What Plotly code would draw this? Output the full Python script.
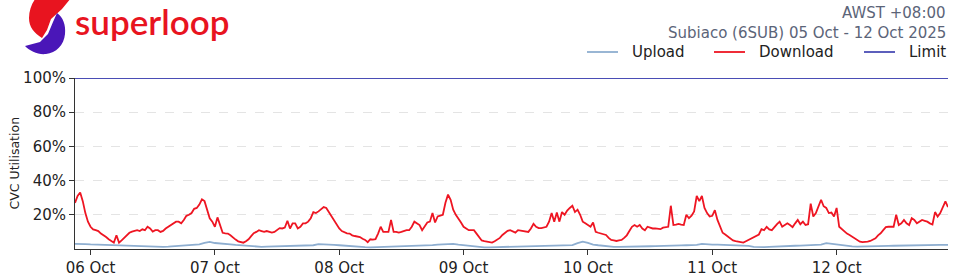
import pandas as pd
import plotly.graph_objects as go

# ---------------- data ----------------
start_time = "2025-10-05 21:00"
range_end = "2025-10-12 21:30"

download_pct = [
    27, 31, 33, 28, 21, 16, 13, 11.5, 11, 10.5, 9, 8.2, 7, 5.7, 4.5, 3.7, 8, 3.7, 5, 6.5,
    8.2, 9.5, 10.2, 10.5, 11, 10.5, 11.5, 11, 13, 12, 10.2, 11, 11, 10, 10.6, 12, 13, 14, 15, 16,
    16, 15, 17, 19.4, 20, 21, 23.5, 24, 26, 29, 28, 23, 18, 16, 13, 18.5, 14,
    9.5, 9.2, 9, 8, 6.5, 5.5, 4.5, 4, 3.7, 4.5, 5.7, 7.5, 9.2, 10, 11, 10.5, 10, 10.5, 10, 9.6,
    10, 11, 12.2, 12, 12.5, 16.5, 12, 15, 15, 12, 13, 15, 15, 16, 18, 21.6, 21, 22, 23.5, 24.5,
    24, 21.6, 19.5, 17, 14, 12, 10.5, 9.6, 9.2, 9, 8, 7.6, 7.3, 7, 6, 5.3,
    4, 5.7, 5.5, 5.7, 9, 13, 10, 10.2, 10, 17, 10, 10, 9.6, 10, 10.6, 11, 11, 13, 16, 15,
    14, 11, 13, 15.5, 16, 21, 15.5, 19, 19.5, 20, 27, 31.8, 28.8, 23, 20, 18, 15.5, 13, 12, 11,
    11, 11, 9, 7, 5, 4.6, 4.3, 4, 3.7, 4.5, 5.3, 6.5, 8.2, 9.5, 10.6, 11,
    10.5, 9.6, 11, 10.8, 10.6, 10.2, 10, 12, 14.7, 13, 12.2, 12.2, 12.5, 13, 16, 21, 16, 21.3, 16, 21.6,
    20, 22.5, 24, 25.3, 21.6, 23, 20, 16, 15, 14, 13, 15.5, 10, 9.5, 9, 8.6, 8.2, 6.5, 5.3, 5,
    4.7, 5, 5.3, 6.5, 8, 10.5, 13, 14, 13, 14, 12, 11, 13, 12.5, 12, 12,
    12, 11.6, 12.5, 12.8, 13, 25.3, 14, 14.2, 14.7, 14.3, 14, 20, 18, 19.5, 22, 31, 28, 31, 24, 21,
    19, 19.4, 22.7, 17, 13, 9.5, 8.5, 7.3, 6, 5, 4.6, 4.3, 4, 3.7, 4.5, 5.3, 6.3, 7.3, 8, 8.5,
    11.6, 11, 13, 11.5, 11, 13, 14.5, 16, 13, 14, 15, 14, 12.8, 15, 17, 14.5,
    16, 14, 14.5, 26.5, 19, 21, 25, 28.8, 25, 24, 21, 21.3, 19, 24, 13, 11.5, 10, 9, 8.2, 7.2,
    6.3, 5.3, 4.3, 4, 4, 4.3, 4.7, 5.5, 6.3, 8, 9.2, 11, 12.8, 13, 13, 13, 20, 14, 15, 17,
    15, 14, 18, 17, 15, 16, 17, 16.5, 16, 15, 14.3, 21.6, 19, 21, 24, 27.8, 24.5,
]

upload_pct = [
    3.0, 3.1, 2.9, 2.7, 2.6, 2.4, 2.2, 2.1, 1.9, 1.7, 1.6,
    1.5, 1.4, 1.3, 1.2, 1.1, 1.2, 1.3, 1.4, 1.6, 1.7,
    1.8, 2.0, 2.3, 2.7, 3.6, 4.2, 3.5, 3.1, 3.0, 2.7,
    2.4, 2.2, 1.9, 1.5, 1.4, 1.3, 1.4, 1.5, 1.5, 1.6,
    1.6, 1.7, 1.8, 1.9, 2.0, 2.2, 2.8, 2.8, 2.6, 2.4,
    2.2, 1.9, 1.6, 1.4, 1.2, 1.1, 1.0, 1.1, 1.2, 1.2,
    1.3, 1.3, 1.4, 1.5, 1.5, 1.6, 1.8, 2.0, 2.3, 2.6,
    2.7, 2.8, 3.0, 2.6, 2.2, 1.9, 1.6, 1.3, 1.0, 1.0,
    1.1, 1.1, 1.2, 1.3, 1.4, 1.5, 1.5, 1.6, 1.6, 1.7,
    1.8, 1.9, 2.0, 2.1, 2.2, 2.3, 3.4, 4.3, 3.6, 2.6,
    2.2, 1.8, 1.4, 1.3, 1.2, 1.2, 1.3, 1.4, 1.5, 1.5,
    1.6, 1.7, 1.7, 1.8, 1.9, 2.0, 2.1, 2.2, 2.3, 2.4,
    3.0, 2.7, 2.6, 2.6, 2.5, 2.4, 2.5, 2.4, 2.3, 1.8,
    1.3, 1.0, 1.1, 1.3, 1.5, 1.6, 1.7, 1.8, 1.9, 2.0,
    2.1, 2.2, 2.4, 2.6, 3.4, 3.0, 2.4, 2.0, 1.7, 1.5,
    1.4, 1.4, 1.5, 1.6, 1.7, 1.8, 1.8, 1.9, 2.0, 2.1,
    2.2, 2.3, 2.2, 2.3, 2.4, 2.3, 2.4, 2.4, 2.4,
]

limit_pct = [100, 100]
y_ticks = [20, 40, 60, 80, 100]
y_tick_labels = ["20%", "40%", "60%", "80%", "100%"]
series_names = ["Upload", "Download", "Limit"]
series_colors = ["#8eaed0", "#ee1522", "#4a4db5"]
title_line1 = "AWST +08:00"
title_line2 = "Subiaco (6SUB) 05 Oct - 12 Oct 2025"
y_title = "CVC Utilisation"
brand = "superloop"

# ---------------- build ----------------
t_dl = pd.date_range(start_time, periods=len(download_pct), freq="30min")
t_ul = pd.date_range(start_time, periods=len(upload_pct), freq="1h")
t_lim = [pd.Timestamp(start_time), pd.Timestamp(range_end)]

W, H = 960, 280
ML, MR, MT, MB = 75, 12, 78, 31
PW, PH = W - ML - MR, H - MT - MB


def px(x):
    return (x - ML) / PW


def py(y):
    return (H - MB - y) / PH


def path(pts):
    s = ""
    for p in pts:
        if isinstance(p, str):
            s += p + " "
        else:
            s += f"{px(p[0]):.5f},{py(p[1]):.5f} "
    return s.strip()


FONT = "DejaVu Sans"
LW = 1.8
fig = go.Figure()
fig.add_trace(go.Scatter(x=t_ul, y=upload_pct, name=series_names[0], mode="lines",
                         line=dict(color=series_colors[0], width=LW)))
fig.add_trace(go.Scatter(x=t_dl, y=download_pct, name=series_names[1], mode="lines",
                         line=dict(color=series_colors[1], width=LW)))
fig.add_trace(go.Scatter(x=t_lim, y=limit_pct, name=series_names[2], mode="lines",
                         line=dict(color=series_colors[2], width=LW)))

red_logo = path(["M", (36, -2), "L", (71, -2), "L", (62, 9), "L", (51, 19), "L", (47, 30),
                 "L", (42, 38), "C", (34, 33), (29, 27), (29, 18),
                 "C", (29, 10), (32, 3), (36, -2), "Z"])
purple_logo = path(["M", (57, 13), "C", (63, 17), (66, 25), (65, 34),
                    "C", (64, 45), (56, 53), (46, 54), "C", (38, 55), (30, 51), (25, 46),
                    "L", (40, 42), "L", (48, 34), "L", (53, 22), "Z"])

shapes = [
    dict(type="path", xref="paper", yref="paper", path=red_logo,
         fillcolor="#e8141f", line=dict(width=0), layer="above"),
    dict(type="path", xref="paper", yref="paper", path=purple_logo,
         fillcolor="#4a16b8", line=dict(width=0), layer="above"),
]

annotations = [
    dict(text=brand, xref="paper", yref="paper", x=px(73), y=py(21),
         xanchor="left", yanchor="middle", showarrow=False,
         font=dict(family="Lato", size=35, weight=600, color="#e8141f")),
    dict(text=title_line1, xref="paper", yref="paper", x=1.0, y=py(13),
         xanchor="right", yanchor="middle", showarrow=False,
         font=dict(family=FONT, size=15, color="#5b6478")),
    dict(text=title_line2, xref="paper", yref="paper", x=1.0, y=py(33),
         xanchor="right", yanchor="middle", showarrow=False,
         font=dict(family=FONT, size=15, color="#5b6478")),
    dict(text=y_title, xref="paper", yref="paper", x=px(14), y=0.5,
         xanchor="center", yanchor="middle", textangle=-90, showarrow=False,
         font=dict(family=FONT, size=12.5, color="#222222")),
]

# manual legend (line sample + label) placed like the reference
legend_line_x = [(587, 618), (714, 745), (864, 895)]
legend_y = 52
for (x0, x1), name, col in zip(legend_line_x, series_names, series_colors):
    shapes.append(dict(type="line", xref="paper", yref="paper",
                       x0=px(x0), x1=px(x1), y0=py(legend_y), y1=py(legend_y),
                       line=dict(color=col, width=LW)))
    annotations.append(dict(text=name, xref="paper", yref="paper", x=px(x1 + 12),
                            y=py(legend_y), xanchor="left", yanchor="middle",
                            showarrow=False,
                            font=dict(family=FONT, size=15, color="#222222")))

fig.update_layout(
    width=W, height=H,
    margin=dict(l=ML, r=MR, t=MT, b=MB, pad=0, autoexpand=False),
    paper_bgcolor="white", plot_bgcolor="white",
    font=dict(family=FONT, size=15, color="#222222"),
    showlegend=False,
    xaxis=dict(range=[t_lim[0], t_lim[1]], showgrid=False, zeroline=False,
               automargin=False,
               showline=True, linecolor="#333333", linewidth=1,
               ticks="outside", ticklen=5, tickcolor="#333333",
               dtick=86400000, tick0="2025-10-06 00:00", tickformat="%d %b",
               tickfont=dict(size=15, color="#222222")),
    yaxis=dict(range=[0, 100], tickvals=y_ticks, ticktext=y_tick_labels,
               automargin=False,
               showgrid=True, gridcolor="#e4e4e4", griddash="dash", gridwidth=1,
               zeroline=False, showline=True, linecolor="#333333", linewidth=1,
               ticks="outside", ticklen=5, tickcolor="#333333",
               tickfont=dict(size=15, color="#222222")),
    shapes=shapes,
    annotations=annotations,
)

fig.write_html("out.html")
